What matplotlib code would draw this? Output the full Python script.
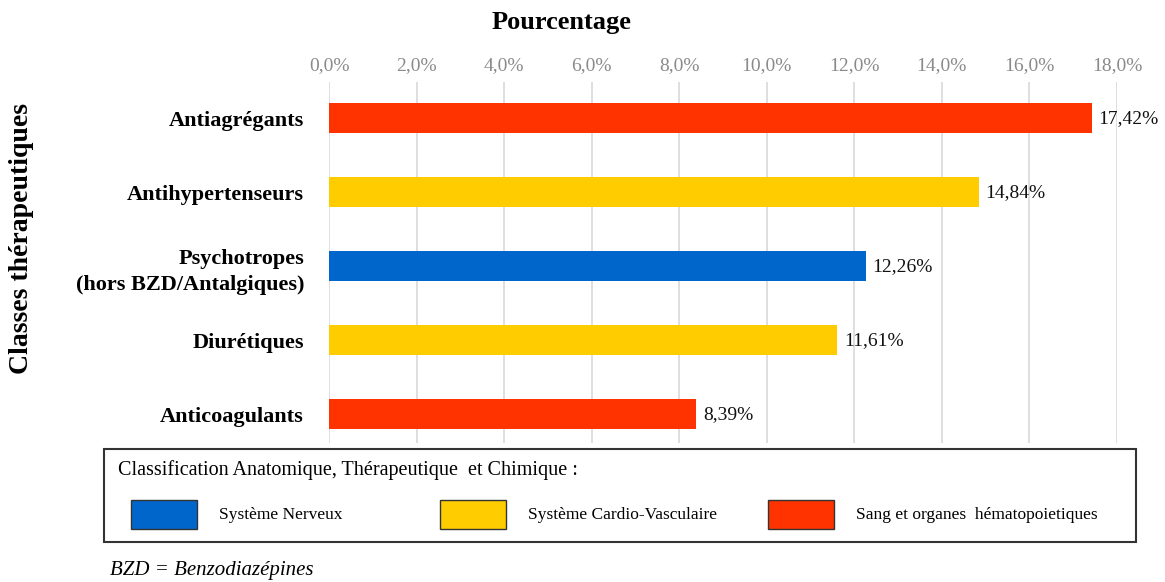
import matplotlib
matplotlib.use("Agg")
from matplotlib import pyplot as plt
from matplotlib.patches import Rectangle

# data
categories = ["Antiagrégants", "Antihypertenseurs",
              "Psychotropes\n(hors BZD/Antalgiques)", "Diurétiques",
              "Anticoagulants"]
values = [17.42, 14.84, 12.26, 11.61, 8.39]
groups = ["sang", "cardio", "nerveux", "cardio", "sang"]

group_names = ["nerveux", "cardio", "sang"]
group_labels = ["Système Nerveux", "Système Cardio-Vasculaire",
                "Sang et organes  hématopoietiques"]
colors = {"nerveux": "#0066CC", "cardio": "#FFCC00", "sang": "#FF3300"}
xticks = [0, 2, 4, 6, 8, 10, 12, 14, 16, 18]

plt.rcParams["font.family"] = ["Liberation Serif", "DejaVu Serif"]

W, H = 1165, 582
fig = plt.figure(figsize=(W / 100, H / 100), dpi=100)
ax = fig.add_axes([329 / W, 1 - 443 / H, 788 / W, (443 - 82) / H])

pos = list(range(len(categories)))
ax.barh(pos, values, height=0.41, color=[colors[g] for g in groups], zorder=3)
for p, v in zip(pos, values):
    ax.text(v + 0.15, p, f"{v:.2f}".replace(".", ",") + "%", va="center",
            ha="left", fontsize=14, color="#111111")

ax.set_xlim(0, 18)
ax.set_ylim(4.39, -0.49)
ax.set_xticks(xticks)
ax.set_xticklabels([f"{t:.1f}".replace(".", ",") + "%" for t in xticks],
                   fontsize=14, color="#8a8a8a")
ax.xaxis.tick_top()
ax.tick_params(axis="x", length=0, pad=6)
ax.set_yticks(pos)
ax.set_yticklabels(categories, fontsize=16, fontweight="bold", ha="right")
for lbl in ax.get_yticklabels():
    lbl.set_linespacing(1.45)
ax.tick_params(axis="y", length=0, pad=18)
ax.grid(axis="x", color="#d9d9d9", linewidth=1.2, zorder=0)
for s in ax.spines.values():
    s.set_visible(False)

fig.text(562 / W, 1 - 22 / H, "Pourcentage", ha="center", va="center",
         fontsize=19, fontweight="bold")
fig.text(22 / W, 1 - 238 / H, "Classes thérapeutiques", rotation=90,
         ha="center", va="center", fontsize=20, fontweight="bold")

# legend box
fig.patches.append(Rectangle((104 / W, 1 - 542 / H), 1032 / W, 93 / H,
                             transform=fig.transFigure, fill=False,
                             edgecolor="#333333", linewidth=1.5))
fig.text(118 / W, 1 - 470 / H,
         "Classification Anatomique, Thérapeutique  et Chimique :",
         ha="left", va="center", fontsize=14.5)
patch_x = [131, 440, 768]
for px, g, lab in zip(patch_x, group_names, group_labels):
    fig.patches.append(Rectangle((px / W, 1 - 529 / H), 66 / W, 29 / H,
                                 transform=fig.transFigure,
                                 facecolor=colors[g], edgecolor="#333333",
                                 linewidth=1))
    fig.text((px + 88) / W, 1 - 515 / H, lab, ha="left", va="center",
             fontsize=12.5)

fig.text(110 / W, 1 - 570 / H, "BZD = Benzodiazépines", ha="left",
         va="center", fontsize=15, style="italic")

fig.savefig("out.png", dpi=100)
